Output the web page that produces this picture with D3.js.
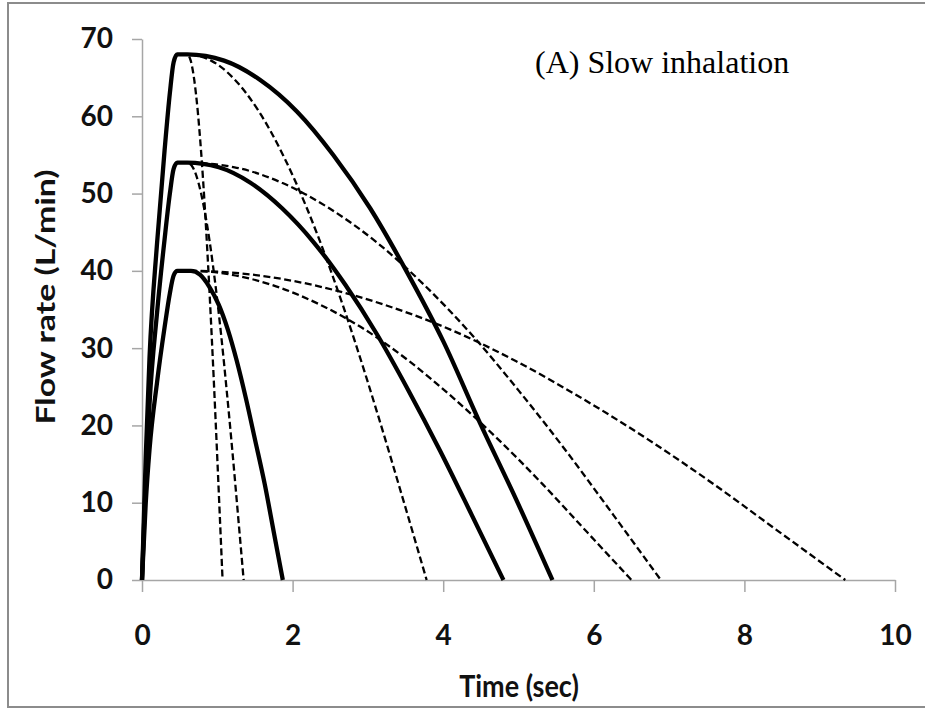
<!doctype html>
<html>
  <head>
    <script src="https://cdn.jsdelivr.net/npm/d3@7"></script>
    <style>
      body { margin: 0; background: #fff; }
    </style>
  </head>
  <body>
    <svg id="chart" width="925" height="712"></svg>

    <script>
      // flow profiles: [time (sec), flow rate (L/min)]
      var solid68 = [[0,0],[0.05,16],[0.1,28.8],[0.2,43.6],[0.3,55.6],[0.37,63],[0.42,67],[0.47,68],
        [0.6,68],[1.09,67.2],[1.57,64.7],[2.06,60.6],[2.54,55],[3.03,48.1],[3.51,40],[4.0,30.9],[4.48,20.5],[4.97,10.4],[5.45,0]];
      var solid54 = [[0,0],[0.05,13],[0.1,22.8],[0.2,34.6],[0.3,44.1],[0.37,50],[0.42,53.2],[0.47,54],
        [0.6,54],[1.02,53.4],[1.44,51.4],[1.86,48.1],[2.28,43.7],[2.7,38.2],[3.12,31.8],[3.54,24.5],[3.96,16.7],[4.38,8.4],[4.8,0]];
      var solid40 = [[0,0],[0.05,10],[0.1,16.9],[0.2,25.6],[0.3,32.7],[0.37,37.1],[0.42,39.4],[0.47,40],
        [0.65,40],[0.77,39.5],[0.89,38],[1.02,35.6],[1.14,32.4],[1.26,28.3],[1.38,23.5],[1.5,18.2],[1.63,12.4],[1.75,6.2],[1.87,0]];

      var dash68a = [[0.5,68],[0.6,68],[0.647,67.2],[0.694,64.7],[0.741,60.6],[0.788,55],[0.835,48.1],[0.882,40],[0.929,30.9],[0.976,21],[1.023,10.6],[1.07,0]];
      var dash68b = [[0.5,68],[0.6,68],[0.918,67.2],[1.236,64.7],[1.554,60.6],[1.872,55],[2.19,48.1],[2.508,40],[2.826,30.9],[3.144,21],[3.462,10.6],[3.78,0]];
      var dash54a = [[0.5,54],[0.6,54],[0.675,53.4],[0.75,51.4],[0.825,48.1],[0.9,43.7],[0.975,38.2],[1.05,31.8],[1.125,24.5],[1.2,16.7],[1.275,8.4],[1.35,0]];
      var dash54b = [[0.5,54],[0.6,54],[1.229,53.4],[1.858,51.4],[2.487,48.1],[3.116,43.7],[3.745,38.2],[4.374,31.8],[5.003,24.5],[5.632,16.7],[6.261,8.4],[6.89,0]];
      var dash40a = [[0.5,40],[0.6,40],[1.19,39.5],[1.78,38],[2.37,35.6],[2.96,32.4],[3.55,28.3],[4.14,23.5],[4.73,18.2],[5.32,12.4],[5.91,6.2],[6.5,0]];
      var dash40b = [[0.5,40],[0.6,40],[1.474,39.5],[2.348,38],[3.222,35.6],[4.096,32.4],[4.97,28.3],[5.844,23.5],[6.718,18.2],[7.592,12.4],[8.466,6.2],[9.34,0]];

      var xTicks = [0, 2, 4, 6, 8, 10];
      var yTicks = [0, 10, 20, 30, 40, 50, 60, 70];

      var svg = d3.select("#chart");

      var x = d3.scaleLinear().domain([0, 10]).range([142, 895]);
      var y = d3.scaleLinear().domain([0, 70]).range([580, 39]);

      // outer frame
      svg.append("rect")
        .attr("x", 8).attr("y", 3)
        .attr("width", 925).attr("height", 704)
        .attr("fill", "#fff")
        .attr("stroke", "#8c8c8c")
        .attr("stroke-width", 2);

      var axisColor = "#a6a6a6";
      var labelFont = "Lato, 'Open Sans', sans-serif";

      var yAxis = svg.append("g")
        .attr("transform", "translate(142,0)")
        .call(d3.axisLeft(y).tickValues(yTicks).tickSize(10).tickSizeOuter(0).tickPadding(19));

      var xAxis = svg.append("g")
        .attr("transform", "translate(0,580)")
        .call(d3.axisBottom(x).tickValues(xTicks).tickSize(12).tickSizeOuter(0).tickPadding(33));

      [xAxis, yAxis].forEach(function(g) {
        g.selectAll("path, line").attr("stroke", axisColor).attr("stroke-width", 1.5);
        g.selectAll("text")
          .attr("fill", "#111")
          .style("font-family", labelFont)
          .style("font-weight", "bold")
          .style("font-size", "28px");
      });

      var line = d3.line()
        .x(function(d) { return x(d[0]); })
        .y(function(d) { return y(d[1]); })
        .curve(d3.curveMonotoneX);

      var dashed = svg.append("g");
      dashed.selectAll("path")
        .data([dash68a, dash68b, dash54a, dash54b, dash40a, dash40b])
        .enter()
        .append("path")
        .attr("d", line)
        .attr("fill", "none")
        .attr("stroke", "#000")
        .attr("stroke-width", 2.3)
        .attr("stroke-dasharray", "7,3.5");

      var solid = svg.append("g");
      solid.selectAll("path")
        .data([solid68, solid54, solid40])
        .enter()
        .append("path")
        .attr("d", line)
        .attr("fill", "none")
        .attr("stroke", "#000")
        .attr("stroke-width", 4.3)
        .attr("stroke-linejoin", "round");

      // titles (the original picture is a little stretched vertically)
      svg.append("text")
        .attr("transform", "translate(519,697) scale(1,1.15)")
        .attr("text-anchor", "middle")
        .style("font-family", labelFont)
        .style("font-weight", "bold")
        .style("font-size", "27px")
        .attr("fill", "#111")
        .text("Time (sec)");

      svg.append("text")
        .attr("transform", "translate(55,297) rotate(-90) scale(1.3,1)")
        .attr("text-anchor", "middle")
        .style("font-family", labelFont)
        .style("font-weight", "bold")
        .style("font-size", "26px")
        .attr("fill", "#111")
        .text("Flow rate (L/min)");

      svg.append("text")
        .attr("x", 535).attr("y", 73)
        .style("font-family", "'Liberation Serif', 'Times New Roman', serif")
        .style("font-size", "32px")
        .attr("fill", "#000")
        .text("(A) Slow inhalation");
    </script>
  </body>
</html>
